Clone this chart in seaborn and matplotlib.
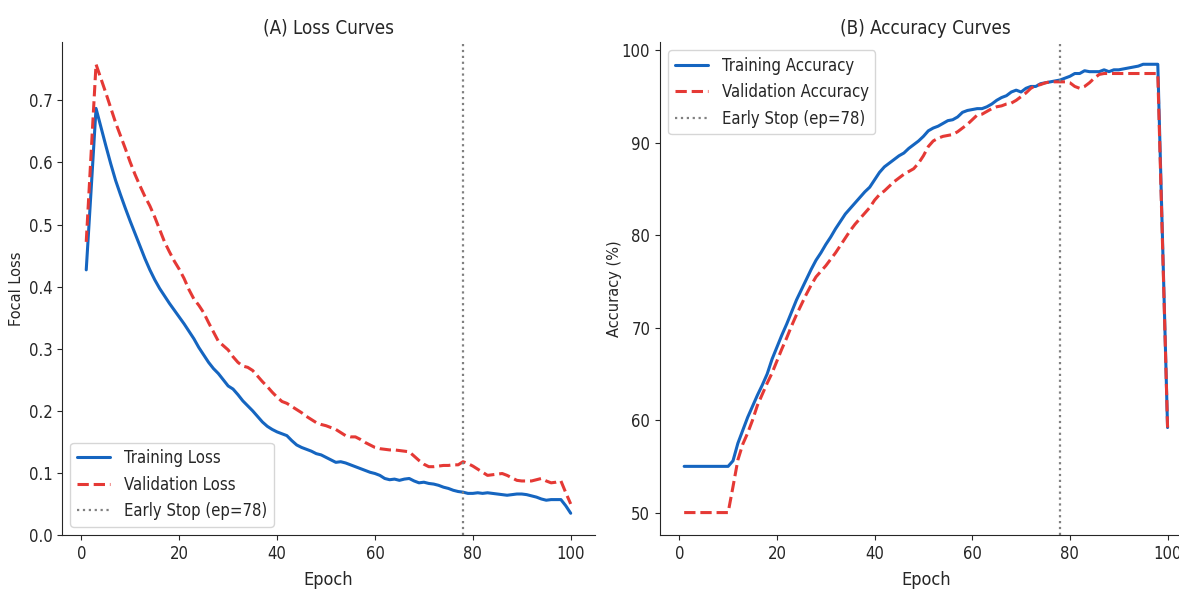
"""Training / validation curves with early stopping marker."""

import matplotlib.pyplot as plt
import numpy as np
import pandas as pd
import seaborn as sns

sns.set_style("ticks")
plt.rcParams["font.family"] = ["DejaVu Sans"]
plt.rcParams["font.stretch"] = "condensed"

epochs = np.arange(1, 101)
early_stop = 78

train_loss = [
    0.427, 0.556, 0.687, 0.657, 0.627, 0.598, 0.571, 0.548, 0.526, 0.505,
    0.485, 0.465, 0.445, 0.427, 0.411, 0.397, 0.385, 0.373, 0.362, 0.351,
    0.340, 0.328, 0.316, 0.302, 0.290, 0.278, 0.268, 0.260, 0.250, 0.240,
    0.235, 0.226, 0.216, 0.208, 0.200, 0.191, 0.182, 0.175, 0.170, 0.166,
    0.163, 0.160, 0.152, 0.145, 0.141, 0.138, 0.135, 0.131, 0.129, 0.125,
    0.121, 0.117, 0.118, 0.116, 0.113, 0.110, 0.107, 0.104, 0.101, 0.099,
    0.096, 0.091, 0.089, 0.090, 0.088, 0.090, 0.091, 0.087, 0.084, 0.085,
    0.083, 0.082, 0.080, 0.077, 0.075, 0.072, 0.070, 0.069, 0.067, 0.067,
    0.068, 0.067, 0.068, 0.067, 0.066, 0.065, 0.064, 0.065, 0.066, 0.066,
    0.065, 0.063, 0.061, 0.058, 0.056, 0.057, 0.057, 0.057, 0.047, 0.035,
]
val_loss = [
    0.472, 0.615, 0.758, 0.735, 0.712, 0.688, 0.664, 0.643, 0.622, 0.600,
    0.580, 0.562, 0.545, 0.530, 0.512, 0.492, 0.472, 0.456, 0.441, 0.428,
    0.413, 0.395, 0.380, 0.370, 0.358, 0.342, 0.327, 0.312, 0.305, 0.298,
    0.287, 0.278, 0.272, 0.270, 0.265, 0.256, 0.247, 0.239, 0.230, 0.222,
    0.215, 0.212, 0.207, 0.202, 0.197, 0.191, 0.186, 0.181, 0.178, 0.176,
    0.173, 0.170, 0.165, 0.160, 0.158, 0.158, 0.154, 0.149, 0.145, 0.141,
    0.139, 0.138, 0.137, 0.137, 0.136, 0.135, 0.134, 0.127, 0.120, 0.114,
    0.110, 0.110, 0.111, 0.112, 0.112, 0.113, 0.113, 0.118, 0.115, 0.111,
    0.106, 0.101, 0.096, 0.097, 0.098, 0.099, 0.096, 0.092, 0.088, 0.087,
    0.087, 0.087, 0.089, 0.091, 0.087, 0.084, 0.085, 0.087, 0.068, 0.050,
]
train_acc = [
    55.0, 55.0, 55.0, 55.0, 55.0, 55.0, 55.0, 55.0, 55.0, 55.0,
    55.6, 57.5, 58.9, 60.3, 61.5, 62.7, 63.8, 65.0, 66.6, 67.9,
    69.2, 70.4, 71.7, 73.0, 74.1, 75.2, 76.3, 77.3, 78.1, 79.0,
    79.8, 80.7, 81.5, 82.3, 82.9, 83.5, 84.1, 84.7, 85.2, 86.0,
    86.8, 87.4, 87.8, 88.2, 88.6, 88.9, 89.4, 89.8, 90.2, 90.7,
    91.3, 91.6, 91.8, 92.1, 92.4, 92.5, 92.8, 93.3, 93.5, 93.6,
    93.7, 93.7, 93.9, 94.2, 94.6, 94.9, 95.1, 95.5, 95.7, 95.5,
    95.9, 96.1, 96.1, 96.4, 96.5, 96.6, 96.7, 96.8, 97.0, 97.2,
    97.5, 97.5, 97.8, 97.7, 97.7, 97.7, 97.9, 97.7, 97.9, 97.9,
    98.0, 98.1, 98.2, 98.3, 98.5, 98.5, 98.5, 98.5, 78.9, 59.2,
]
val_acc = [
    50.0, 50.0, 50.0, 50.0, 50.0, 50.0, 50.0, 50.0, 50.0, 50.0,
    52.8, 55.7, 57.4, 58.6, 60.0, 61.6, 62.8, 64.0, 65.1, 66.4,
    67.7, 68.9, 70.2, 71.4, 72.5, 73.6, 74.6, 75.5, 76.1, 76.7,
    77.4, 78.1, 78.9, 79.7, 80.5, 81.2, 81.8, 82.4, 83.0, 83.8,
    84.4, 84.8, 85.3, 85.8, 86.2, 86.6, 86.9, 87.2, 87.8, 88.6,
    89.6, 90.2, 90.5, 90.7, 90.8, 90.9, 91.2, 91.6, 92.0, 92.5,
    93.0, 93.1, 93.4, 93.7, 93.9, 94.0, 94.2, 94.3, 94.6, 95.0,
    95.4, 95.9, 96.2, 96.3, 96.5, 96.6, 96.6, 96.6, 96.6, 96.5,
    96.1, 95.9, 96.1, 96.5, 97.0, 97.4, 97.5, 97.5, 97.5, 97.5,
    97.5, 97.5, 97.5, 97.5, 97.5, 97.5, 97.5, 97.5, 78.4, 59.2,
]

BLUE = "#1565C0"
RED = "#E53935"


def main():
    df = pd.DataFrame({
        "epoch": epochs,
        "train_loss": train_loss,
        "val_loss": val_loss,
        "train_acc": train_acc,
        "val_acc": val_acc,
    })

    fig = plt.figure(figsize=(11.79, 5.92), dpi=100)
    lax = fig.add_axes([0.0526, 0.0963, 0.452, 0.833])
    rax = fig.add_axes([0.5598, 0.0963, 0.451, 0.833])

    # loss
    sns.lineplot(data=df, x="epoch", y="train_loss", ax=lax, color=BLUE,
                 linewidth=2.2, label="Training Loss")
    sns.lineplot(data=df, x="epoch", y="val_loss", ax=lax, color=RED,
                 linewidth=2.2, linestyle="--", label="Validation Loss")
    lax.axvline(early_stop, color="gray", linestyle=":", linewidth=1.6,
                label=f"Early Stop (ep={early_stop})")
    lax.set_ylim(bottom=0)
    lax.set_title("(A) Loss Curves", fontsize=13.5)
    lax.set_xlabel("Epoch", fontsize=13, labelpad=6)
    lax.set_ylabel("Focal Loss", fontsize=10.5, stretch="normal", labelpad=3)
    lax.legend(loc="lower left", fontsize=12)

    # accuracy
    sns.lineplot(data=df, x="epoch", y="train_acc", ax=rax, color=BLUE,
                 linewidth=2.2, label="Training Accuracy")
    sns.lineplot(data=df, x="epoch", y="val_acc", ax=rax, color=RED,
                 linewidth=2.2, linestyle="--", label="Validation Accuracy")
    rax.axvline(early_stop, color="gray", linestyle=":", linewidth=1.6,
                label=f"Early Stop (ep={early_stop})")
    rax.set_title("(B) Accuracy Curves", fontsize=13.5)
    rax.set_xlabel("Epoch", fontsize=13, labelpad=6)
    rax.set_ylabel("Accuracy (%)", fontsize=10.5, stretch="normal", labelpad=0)
    rax.legend(loc="upper left", fontsize=12)

    for ax in (lax, rax):
        ax.tick_params(labelsize=12)
        sns.despine(ax=ax)

    fig.savefig("out.png", dpi=100)


if __name__ == '__main__':
    main()
